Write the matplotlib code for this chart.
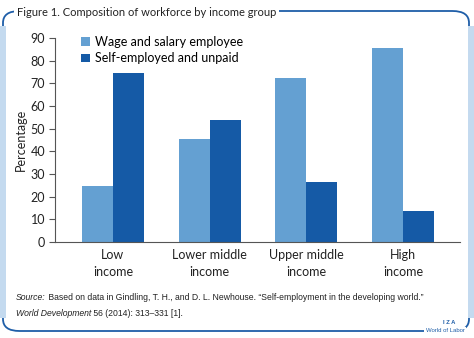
import matplotlib
matplotlib.use("Agg")
import matplotlib.pyplot as plt
import numpy as np
from matplotlib.patches import FancyBboxPatch, Rectangle

# ---------------------------------------------------------------------------
# Data
# ---------------------------------------------------------------------------
groups = ["Low\nincome", "Lower middle\nincome", "Upper middle\nincome", "High\nincome"]
wage_salary = [24.7, 45.4, 72.3, 85.5]
self_employed = [74.5, 53.8, 26.5, 13.7]
series_labels = ["Wage and salary employee", "Self-employed and unpaid"]
yticks = [0, 10, 20, 30, 40, 50, 60, 70, 80, 90]

LIGHT = "#64a0d2"
DARK = "#155aa6"
FRAME = "#1f5ea8"
FRAME_SIDE = "#c4daef"
TEXT_COL = "#222222"

W, H = 474, 338
FONT = "Lato"


def fx(x):
    return x / W


def fy(y):
    return 1 - y / H


fig = plt.figure(figsize=(W / 100, H / 100), dpi=100)
fig.patch.set_facecolor("white")

# frame
frame = FancyBboxPatch((fx(3), fy(331)), fx(466), 320 / H,
                       boxstyle="round,pad=0,rounding_size=0.035",
                       transform=fig.transFigure, fill=False,
                       edgecolor=FRAME, linewidth=1.3, zorder=0)
fig.patches.append(frame)
for x0 in (0, 468):
    fig.patches.append(Rectangle((fx(x0), fy(318)), fx(6), 292 / H,
                                 transform=fig.transFigure, facecolor=FRAME_SIDE,
                                 edgecolor="none", zorder=1))

fig.text(fx(17), fy(12), "Figure 1. Composition of workforce by income group",
         fontsize=8, family=FONT, color=TEXT_COL, va="center", ha="left",
         bbox=dict(facecolor="white", edgecolor="none", pad=2), zorder=3)

# axes
ax = fig.add_axes([fx(55), fy(242), fx(405), 204 / H])
x = np.arange(len(groups))
bw = 0.32
ax.bar(x - bw / 2, wage_salary, bw, color=LIGHT, label=series_labels[0])
ax.bar(x + bw / 2, self_employed, bw, color=DARK, label=series_labels[1])
ax.set_xlim(-0.6, len(groups) - 1 + 0.59)
ax.set_ylim(0, 90)
ax.set_yticks(yticks)
ax.set_xticks(x)
ax.set_xticklabels(groups, fontsize=9, family=FONT, color=TEXT_COL, linespacing=1.5)
ax.tick_params(axis="x", length=0, pad=5)
ax.tick_params(axis="y", length=4, width=0.8, color="#555555", labelsize=9, pad=3)
for lab in ax.get_yticklabels():
    lab.set_family(FONT)
    lab.set_color(TEXT_COL)
for s in ("top", "right"):
    ax.spines[s].set_visible(False)
for s in ("left", "bottom"):
    ax.spines[s].set_color("#555555")
    ax.spines[s].set_linewidth(0.8)
ax.set_ylabel("Percentage", fontsize=9, family=FONT, color=TEXT_COL, labelpad=3)

ax.legend(loc="upper left", bbox_to_anchor=(fx(76), fy(31)), bbox_transform=fig.transFigure,
          frameon=False, prop={"family": FONT, "size": 9}, handlelength=0.7,
          handleheight=0.7, handletextpad=0.4, labelspacing=0.35, borderaxespad=0)

# source note with mixed italics
fig.canvas.draw()
renderer = fig.canvas.get_renderer()


def run_text(x, y, parts):
    for txt, style in parts:
        t = fig.text(x, y, txt, fontsize=6.2, family="Liberation Sans", style=style,
                     color=TEXT_COL, va="center", ha="left")
        bb = t.get_window_extent(renderer)
        x = x + bb.width / fig.bbox.width


run_text(fx(16), fy(297), [("Source:", "italic"),
                           (" Based on data in Gindling, T. H., and D. L. Newhouse. "
                            "\u201cSelf-employment in the developing world.\u201d", "normal")])
run_text(fx(16), fy(313), [("World Development", "italic"),
                           (" 56 (2014): 313\u2013331 [1].", "normal")])

# IZA logo
fig.text(fx(449), fy(323), "I Z A", fontsize=4.2, family="Liberation Sans",
         color=FRAME, ha="center", va="center", weight="bold")
fig.text(fx(445), fy(331), "World of Labor", fontsize=4.3, family="Liberation Sans",
         color=FRAME, ha="center", va="center",
         bbox=dict(facecolor="white", edgecolor="none", pad=1), zorder=3)

fig.savefig("out.png", dpi=100, facecolor="white")
